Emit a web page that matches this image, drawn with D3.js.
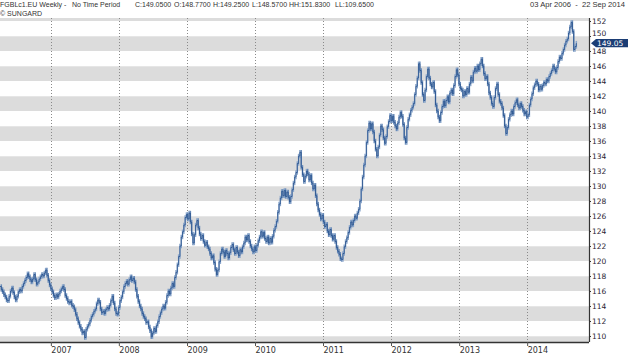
<!DOCTYPE html>
<html><head><meta charset="utf-8">
<script src="https://cdn.jsdelivr.net/npm/d3@7"></script>
<style>body{margin:0;background:#fff;}svg{display:block;}</style>
</head><body>
<script>
// ---- data ----
const startDate = "2006-04-03";      // first weekly bar
const weeklyClose = [
116.6,116.2,115.9,115.5,115.2,114.8,114.7,115.3,116.0,116.4,115.8,115.2,114.8,115.3,115.9,116.2,116.0,116.6,117.0,117.4,
117.8,118.3,117.9,117.5,117.2,117.6,118.2,117.5,116.9,117.2,117.6,117.9,118.2,118.0,118.4,118.8,118.1,117.4,116.8,116.3,
115.9,115.4,115.1,115.5,115.2,115.6,116.0,116.3,116.6,116.2,115.4,115.0,114.6,114.4,114.6,114.1,113.9,113.5,112.9,112.3,
111.8,111.3,110.9,110.4,110.6,109.8,110.9,111.3,111.6,112.1,112.6,112.9,113.3,113.6,114.3,114.8,114.5,113.6,113.1,113.3,
113.0,113.5,113.8,113.6,114.1,114.7,115.3,114.4,113.6,113.0,112.9,113.8,114.7,115.2,115.9,116.6,117.0,117.3,116.9,117.5,
117.9,117.4,117.7,117.2,116.2,115.3,114.6,114.0,113.6,113.0,112.6,112.3,111.8,111.9,111.2,110.7,109.9,110.4,111.0,110.6,
111.4,111.9,112.6,113.1,113.6,114.0,113.7,114.5,115.4,116.0,115.6,116.4,117.0,116.6,117.8,118.5,119.5,120.6,122.0,123.2,
123.9,124.8,125.8,126.2,125.6,126.4,125.2,123.6,122.4,123.5,124.8,125.4,124.4,123.6,123.0,123.4,122.6,122.1,122.5,121.9,
121.6,121.0,120.4,120.7,119.8,118.9,118.2,118.8,119.9,121.0,121.6,121.2,120.6,121.4,121.0,120.4,121.1,121.8,122.2,121.5,
121.0,121.8,121.2,120.7,121.5,121.2,121.9,122.4,123.2,122.8,123.4,122.6,122.0,121.6,121.2,121.9,121.4,122.1,122.7,123.2,
123.9,123.3,123.8,123.0,122.6,123.2,122.4,123.0,122.5,123.3,124.1,124.6,125.3,126.5,127.6,128.4,129.3,128.7,129.4,128.6,
129.2,128.5,127.9,128.6,129.5,130.4,131.2,131.8,133.0,134.0,134.5,132.5,131.5,130.6,131.3,132.0,131.6,130.8,131.4,130.4,
129.6,130.1,128.7,127.6,126.8,126.2,125.6,126.1,125.2,124.6,124.9,124.0,123.5,124.2,123.4,122.9,123.4,122.6,121.8,121.3,
120.9,120.3,120.2,121.0,121.9,122.6,123.1,123.8,124.5,125.2,124.8,125.4,126.0,125.7,126.4,126.9,128.0,129.6,131.2,132.8,
134.0,135.8,137.4,138.4,137.6,138.3,137.2,136.0,134.9,134.0,135.2,136.8,138.0,137.5,136.4,135.7,136.6,137.9,138.6,139.4,
138.7,139.3,138.5,138.0,137.6,138.4,139.2,139.8,139.3,138.2,136.4,135.8,137.8,138.9,139.5,140.1,140.5,141.0,142.2,143.3,
144.4,146.3,145.4,143.8,142.2,141.4,142.8,144.6,145.6,144.4,143.6,143.2,143.8,142.6,140.8,140.0,139.2,138.7,139.8,140.6,
141.3,140.7,141.4,141.9,141.2,142.4,142.8,142.3,143.4,144.6,145.5,144.8,143.6,143.0,142.8,142.0,142.6,142.2,143.0,142.5,
143.6,144.5,144.0,145.2,145.7,145.3,146.0,145.5,146.3,146.9,146.0,145.0,144.3,144.6,143.6,142.4,141.8,141.0,140.6,141.8,
143.0,143.6,142.2,141.3,141.0,140.4,139.4,138.0,137.0,137.8,138.9,139.5,140.0,139.6,140.6,141.1,141.5,140.8,140.4,141.0,
140.6,140.1,139.6,139.9,139.2,139.5,140.8,141.6,142.3,143.1,143.5,144.0,143.6,142.8,143.3,142.9,143.4,143.8,143.6,144.2,
144.0,144.6,145.0,145.4,146.0,145.6,145.2,145.8,146.6,147.2,147.0,147.7,148.2,148.8,149.3,149.6,150.4,151.2,151.8,150.6,
148.2,148.6,149.05
];
const yearTicks = ["2007","2008","2009","2010","2011","2012","2013","2014"];
const priceTicks = [110,112,114,116,118,120,122,124,126,128,130,132,134,136,138,140,142,144,146,148,150,152];
const headerParts = ["FGBLc1.EU Weekly -","No Time Period","C:149.0500","O:148.7700","H:149.2500","L:148.5700","HH:151.8300","LL:109.6500"];
const dateRangeText = "03 Apr 2006  -  22 Sep 2014";
const sourceText = "\u00A9 SUNGARD";
const lastValue = 149.05;

// ---- chart ----
const W = 628, H = 357;
const plot = {left: 0, right: 589, top: 18, bottom: 342};
const svg = d3.select("body").append("svg").attr("width", W).attr("height", H);

const parse = d3.utcParse("%Y-%m-%d");
const t0 = parse(startDate);
const x = d3.scaleUtc().domain([t0, d3.utcDay.offset(t0, 3162)]).range([plot.left, plot.right]);
const y = d3.scaleLinear().domain([109.2, 152.4]).range([plot.bottom, plot.top]);

const data = weeklyClose.map((c, i) => ({date: d3.utcWeek.offset(t0, i), close: c}));

svg.append("clipPath").attr("id", "clip").append("rect")
  .attr("x", plot.left).attr("y", plot.top).attr("width", plot.right - plot.left).attr("height", plot.bottom - plot.top);

const g = svg.append("g").attr("clip-path", "url(#clip)");

// bands every 2 units, gray on [4k, 4k+2]
const bandStarts = d3.range(108, 154, 4);
g.selectAll("rect.band").data(bandStarts).join("rect")
  .attr("x", plot.left).attr("width", plot.right - plot.left)
  .attr("y", d => y(d + 2)).attr("height", d => y(d) - y(d + 2))
  .attr("fill", "#dcdcdc");
g.selectAll("line.bandedge").data(bandStarts).join("line")
  .attr("x1", plot.left).attr("x2", plot.right)
  .attr("y1", d => y(d + 2) + 0.5).attr("y2", d => y(d + 2) + 0.5)
  .attr("stroke", "#e6e6e6").attr("stroke-width", 1);

// year gridlines
const yearDates = yearTicks.map(s => parse(s + "-01-01"));
g.selectAll("line.grid").data(yearDates).join("line")
  .attr("x1", d => Math.round(x(d)) + 0.5).attr("x2", d => Math.round(x(d)) + 0.5)
  .attr("y1", plot.top).attr("y2", plot.bottom)
  .attr("stroke", "#8a8a8a").attr("stroke-width", 1).attr("stroke-dasharray", "1,2");

// weekly bars: from previous close to close
const bars = data.slice(1).map((d, i) => ({date: d.date, prev: data[i].close, close: d.close}));
g.selectAll("line.bar").data(bars).join("line")
  .attr("x1", d => x(d.date)).attr("x2", d => x(d.date))
  .attr("y1", d => y(Math.max(d.prev, d.close)) - 2.2)
  .attr("y2", d => y(Math.min(d.prev, d.close)) + 2.2)
  .attr("stroke", d => d.close >= d.prev ? "#8aa6cb" : "#6a8cb9")
  .attr("stroke-width", 1.5);
// dark close path
g.append("path").datum(data)
  .attr("d", d3.line().x(d => x(d.date)).y(d => y(d.close)).curve(d3.curveStepAfter))
  .attr("fill", "none").attr("stroke", "#244f8b").attr("stroke-width", 0.8);

// x axis
const xAxis = svg.append("g").attr("transform", `translate(0,${plot.bottom})`)
  .call(d3.axisBottom(x).tickValues(yearDates).tickFormat(d3.utcFormat("%Y")).tickSize(4));
xAxis.select(".domain").attr("stroke", "#333").attr("stroke-width", 1.3).attr("d", `M0,0.5H${plot.right}`);
xAxis.selectAll(".tick line").attr("stroke", "#555");
xAxis.selectAll(".tick text").attr("text-anchor", "start").attr("x", 0).attr("dy", "0.55em").attr("y", 7)
  .attr("fill", "#333").style("font", "8px 'DejaVu Sans', sans-serif");

// right axis
const yAxis = svg.append("g").attr("transform", `translate(${plot.right},0)`)
  .call(d3.axisRight(y).tickValues(priceTicks).tickFormat(d3.format("d")).tickSize(2));
yAxis.select(".domain").attr("stroke", "#333").attr("stroke-width", 1.2).attr("d", `M0.5,${plot.top}V${plot.bottom}`);
yAxis.selectAll(".tick line").attr("stroke", "#333");
yAxis.selectAll(".tick text").attr("x", 3).attr("fill", "#2a2433")
  .style("font", "7.5px 'DejaVu Sans', sans-serif");
yAxis.selectAll(".tick").filter(d => d === 150).select("text").attr("dy", "-0.05em");

// last value marker
const ly = y(lastValue);
svg.append("path")
  .attr("d", `M${plot.right + 2},${ly} L${plot.right + 7},${ly - 4.2} H${W} V${ly + 4.2} H${plot.right + 7} Z`)
  .attr("fill", "#1b3d74");
svg.append("text").attr("x", plot.right + 8).attr("y", ly).attr("dy", "0.35em")
  .attr("fill", "#fff").style("font", "7.5px 'DejaVu Sans', sans-serif").text(d3.format(".2f")(lastValue));

// header
const headerX = [0, 72, 135, 174, 213, 252, 289, 335];
svg.selectAll("text.hdr").data(headerParts).join("text")
  .attr("x", (d, i) => headerX[i]).attr("y", 7)
  .attr("fill", "#333").style("font", "7px 'Liberation Sans', Arial, sans-serif").text(d => d);
svg.append("text").attr("x", 625).attr("y", 7).attr("text-anchor", "end")
  .attr("fill", "#333").style("font", "7.6px 'Liberation Sans', Arial, sans-serif").style("white-space", "pre")
  .attr("xml:space", "preserve").text(dateRangeText);
svg.append("text").attr("x", 0).attr("y", 16)
  .attr("fill", "#333").style("font", "7px 'Liberation Sans', Arial, sans-serif").text(sourceText);
</script>
</body></html>
